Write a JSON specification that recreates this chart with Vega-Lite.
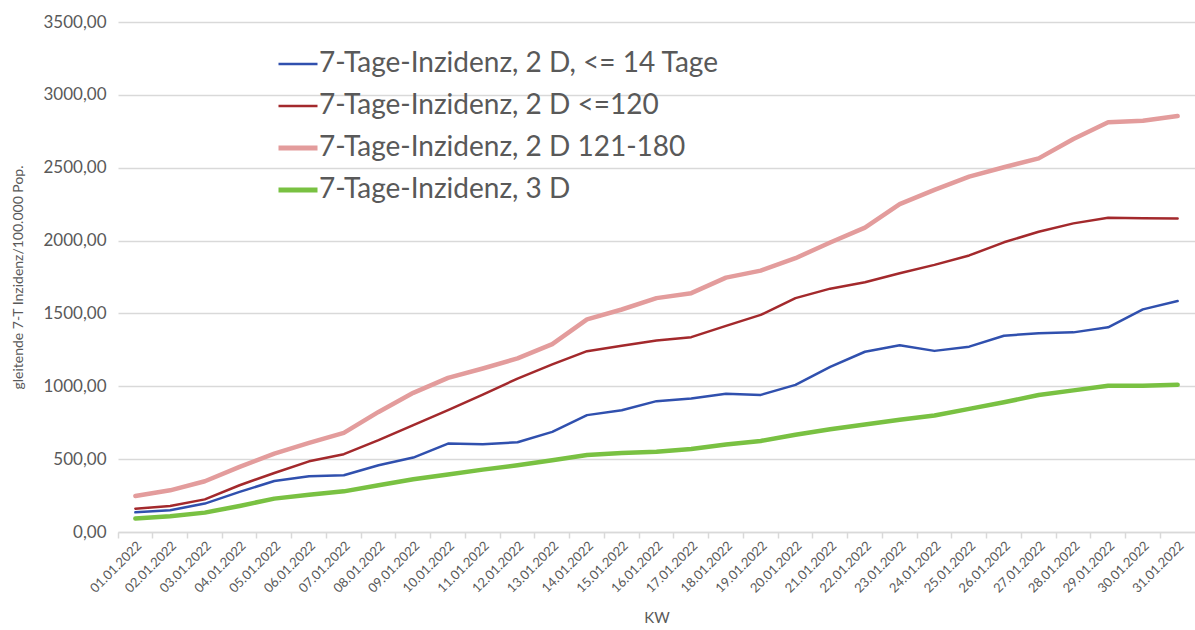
{
  "$schema": "https://vega.github.io/schema/vega-lite/v6.json",
  "width": 1077,
  "height": 510,
  "autosize": {"type": "none"},
  "padding": {"left": 118, "top": 22, "right": 0, "bottom": 98},
  "background": "white",
  "config": {
    "font": "Lato",
    "view": {"stroke": null},
    "axis": {"labelColor": "#595959", "titleColor": "#595959", "labelFont": "Lato", "titleFont": "Lato", "titleFontWeight": "normal"}
  },
  "datasets": {
    "d": [
      {"date":"01.01.2022","b":135,"r":160,"p":247,"g":92},
      {"date":"02.01.2022","b":149,"r":179,"p":286,"g":108},
      {"date":"03.01.2022","b":195,"r":224,"p":348,"g":133},
      {"date":"04.01.2022","b":275,"r":321,"p":447,"g":179},
      {"date":"05.01.2022","b":350,"r":405,"p":538,"g":229},
      {"date":"06.01.2022","b":382,"r":485,"p":611,"g":256},
      {"date":"07.01.2022","b":389,"r":534,"p":680,"g":279},
      {"date":"08.01.2022","b":458,"r":630,"p":824,"g":321},
      {"date":"09.01.2022","b":511,"r":733,"p":955,"g":362},
      {"date":"10.01.2022","b":607,"r":836,"p":1058,"g":394},
      {"date":"11.01.2022","b":603,"r":943,"p":1122,"g":428},
      {"date":"12.01.2022","b":616,"r":1053,"p":1191,"g":458},
      {"date":"13.01.2022","b":687,"r":1150,"p":1289,"g":492},
      {"date":"14.01.2022","b":802,"r":1241,"p":1459,"g":529},
      {"date":"15.01.2022","b":836,"r":1278,"p":1527,"g":542},
      {"date":"16.01.2022","b":898,"r":1314,"p":1605,"g":550},
      {"date":"17.01.2022","b":916,"r":1337,"p":1639,"g":570},
      {"date":"18.01.2022","b":948,"r":1415,"p":1746,"g":600},
      {"date":"19.01.2022","b":941,"r":1490,"p":1794,"g":625},
      {"date":"20.01.2022","b":1010,"r":1605,"p":1879,"g":668},
      {"date":"21.01.2022","b":1133,"r":1670,"p":1987,"g":705},
      {"date":"22.01.2022","b":1237,"r":1714,"p":2089,"g":738},
      {"date":"23.01.2022","b":1282,"r":1776,"p":2250,"g":770},
      {"date":"24.01.2022","b":1243,"r":1833,"p":2348,"g":800},
      {"date":"25.01.2022","b":1272,"r":1898,"p":2439,"g":845},
      {"date":"26.01.2022","b":1347,"r":1988,"p":2503,"g":890},
      {"date":"27.01.2022","b":1364,"r":2061,"p":2564,"g":940},
      {"date":"28.01.2022","b":1370,"r":2118,"p":2697,"g":972},
      {"date":"29.01.2022","b":1405,"r":2157,"p":2812,"g":1003},
      {"date":"30.01.2022","b":1528,"r":2153,"p":2823,"g":1003},
      {"date":"31.01.2022","b":1585,"r":2152,"p":2855,"g":1010}
    ]
  },
  "data": {"name": "d"},
  "transform": [
    {"fold": ["b", "r", "p", "g"], "as": ["key", "value"]},
    {"lookup": "key", "from": {"data": {"values": [
      {"key": "b", "series": "7-Tage-Inzidenz, 2 D, <= 14 Tage"},
      {"key": "r", "series": "7-Tage-Inzidenz, 2 D <=120"},
      {"key": "p", "series": "7-Tage-Inzidenz, 2 D 121-180"},
      {"key": "g", "series": "7-Tage-Inzidenz, 3 D"}
    ]}, "key": "key", "fields": ["series"]}}
  ],
  "resolve": {"axis": {"x": "independent"}},
  "layer": [
    {
      "mark": {"type": "line", "strokeCap": "round", "strokeJoin": "round"},
      "encoding": {
        "x": {
          "field": "date", "type": "ordinal", "sort": null,
          "scale": {"type": "band", "paddingInner": 0, "paddingOuter": 0},
          "axis": {
            "orient": "bottom",
            "title": "KW", "titleFontSize": 15, "titlePadding": 15,
            "labelAngle": -45, "labelFontSize": 13, "labelPadding": 7,
            "ticks": false, "domain": true, "domainColor": "#d9d9d9", "domainWidth": 1.5,
            "grid": false
          }
        },
        "y": {
          "field": "value", "type": "quantitative",
          "scale": {"domain": [0, 3500], "nice": false},
          "axis": {
            "values": [0, 500, 1000, 1500, 2000, 2500, 3000, 3500],
            "labelExpr": "replace(format(datum.value, '.2f'), '.', ',')",
            "labelFontSize": 17, "labelPadding": 12,
            "ticks": false, "domain": false,
            "grid": true, "gridColor": "#d9d9d9", "gridWidth": 1.5,
            "title": "gleitende 7-T Inzidenz/100.000 Pop.", "titleFontSize": 14, "titlePadding": 17
          }
        },
        "color": {
          "field": "series", "type": "nominal",
          "scale": {
            "domain": ["7-Tage-Inzidenz, 2 D, <= 14 Tage", "7-Tage-Inzidenz, 2 D <=120", "7-Tage-Inzidenz, 2 D 121-180", "7-Tage-Inzidenz, 3 D"],
            "range": ["#3050AE", "#A3292C", "#E39C9C", "#79C142"]
          },
          "legend": {
            "title": null, "orient": "none", "legendX": 166, "legendY": 28,
            "symbolType": "stroke", "symbolSize": 1521, "labelFontSize": 28, "labelColor": "#595959",
            "labelFont": "Lato", "labelOffset": 7, "rowPadding": 14, "labelLimit": 600,
            "encode": {"symbols": {"update": {"strokeWidth": {"signal": "(datum.value == '7-Tage-Inzidenz, 2 D 121-180' || datum.value == '7-Tage-Inzidenz, 3 D') ? 5 : 2.5"}}}}
          }
        },
        "strokeWidth": {
          "condition": {"test": "datum.key == 'p' || datum.key == 'g'", "value": 4.5},
          "value": 2.5
        }
      }
    },
    {
      "mark": {"type": "line", "opacity": 0},
      "encoding": {
        "x": {
          "field": "date", "type": "ordinal", "sort": null,
          "axis": {
            "orient": "bottom", "bandPosition": 0, "title": null, "labels": false,
            "ticks": true, "tickColor": "#d9d9d9", "tickWidth": 1.5, "tickSize": 6,
            "domain": false, "grid": false
          }
        },
        "y": {"field": "value", "type": "quantitative"},
        "detail": {"field": "series"}
      }
    }
  ]
}
